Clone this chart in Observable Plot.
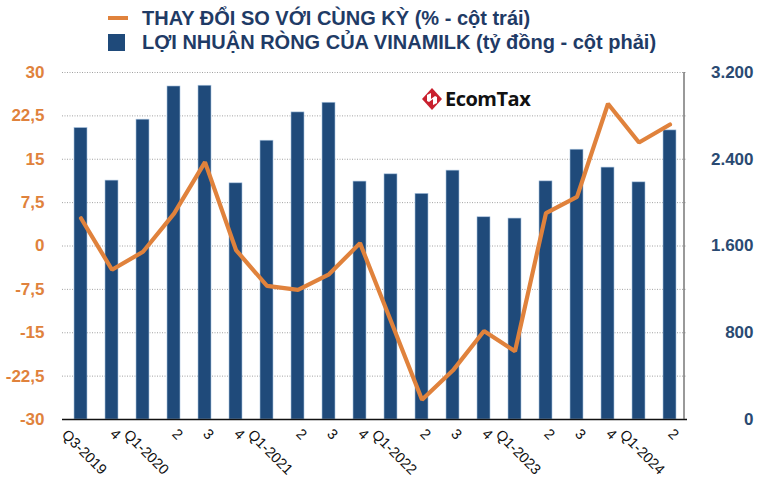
<!DOCTYPE html>
<html>
<head>
<meta charset="utf-8">
<script src="https://cdn.jsdelivr.net/npm/d3@7"></script>
<script src="https://cdn.jsdelivr.net/npm/@observablehq/plot@0.6"></script>
<style>
  html, body { margin: 0; padding: 0; background: #fff; }
  body { width: 765px; height: 478px; overflow: hidden; position: relative; font-family: "Liberation Sans", Arial, sans-serif; }
  .legend { position: absolute; left: 108px; top: 6px; color: #1f3b66; font-family: "Liberation Sans Narrow", "Arial Narrow", "Liberation Sans", sans-serif; font-weight: bold; font-size: 20px; line-height: 24px; }
  .legend .row { display: flex; align-items: center; height: 24px; white-space: nowrap; }
  .legend .sw { width: 20px; margin-right: 14px; display: inline-block; }
  #chart { position: absolute; left: 0; top: 60px; }
  .logo { position: absolute; left: 422px; top: 85px; display: flex; align-items: center; font-family: "Open Sans", sans-serif; font-weight: bold; font-size: 20px; color: #111; letter-spacing: -0.5px; }
</style>
</head>
<body>
<div class="legend">
  <div class="row"><span class="sw" style="height:4px;background:#e0823c"></span><span>THAY ĐỔI SO VỚI CÙNG KỲ (% - cột trái)</span></div>
  <div class="row"><span class="sw" style="height:17px;width:17px;margin-right:17px;background:#1f4a7a"></span><span>LỢI NHUẬN RÒNG CỦA VINAMILK (tỷ đồng - cột phải)</span></div>
</div>
<div id="chart"></div>
<div class="logo"><svg width="20" height="22" viewBox="0 0 20 22" style="margin-right:3px"><path d="M10 0 L20 11 L10 22 L0 11 Z" fill="#c9202e"/><path d="M5 7 L9 5 L9 11 L13 8 L15 9 L15 15 L11 17 L11 11 L7 14 L5 13 Z" fill="#fff"/></svg>EcomTax</div>
<script>
const quarters = ["2019Q3","2019Q4","2020Q1","2020Q2","2020Q3","2020Q4","2021Q1","2021Q2","2021Q3","2021Q4","2022Q1","2022Q2","2022Q3","2022Q4","2023Q1","2023Q2","2023Q3","2023Q4","2024Q1","2024Q2"];
const tickLabels = ["Q3-2019","4","Q1-2020","2","3","4","Q1-2021","2","3","4","Q1-2022","2","3","4","Q1-2023","2","3","4","Q1-2024","2"];
const profit = [2688,2203,2765,3071,3078,2178,2571,2832,2921,2194,2261,2081,2295,1865,1853,2196,2488,2323,2187,2666];
const yoy = [4.8,-4.1,-1.0,5.6,14.5,-0.7,-6.9,-7.6,-4.9,0.5,-13.0,-26.6,-21.5,-14.7,-18.2,5.7,8.5,24.6,17.9,21.0];
const leftTicks = [-30,-22.5,-15,-7.5,0,7.5,15,22.5,30];
const rightTicks = [0,800,1600,2400,3200];

const navy = "#1f4a7a";
const orange = "#e0823c";
const rightMax = 3200, yMin = -30, yMax = 30;
const toLeft = v => yMin + v / rightMax * (yMax - yMin);
const fromLeft = p => (p - yMin) / (yMax - yMin) * rightMax;

const data = quarters.map((q, i) => ({q, label: tickLabels[i], profit: profit[i], yoy: yoy[i]}));

const fmtLeft = d => String(d).replace(".", ",");
const fmtRight = d => Math.round(d).toString().replace(/\B(?=(\d{3})+(?!\d))/g, ".");

const chart = Plot.plot({
  width: 765,
  height: 418,
  marginTop: 12,
  marginBottom: 59,
  marginLeft: 62,
  marginRight: 78,
  style: {fontFamily: "'Liberation Sans', Arial, sans-serif", background: "transparent"},
  x: {domain: quarters, paddingInner: 0.595, paddingOuter: 0.27, axis: null},
  y: {domain: [yMin, yMax], axis: null},
  marks: [
    Plot.gridY(leftTicks, {stroke: "#8a8a8a", strokeOpacity: 1, strokeDasharray: "1,1.5", strokeWidth: 0.8}),
    Plot.barY(data, {x: "q", y1: () => yMin, y2: d => toLeft(d.profit), fill: navy, stroke: "#a9c3df", strokeWidth: 0.6}),
    Plot.line(data, {x: "q", y: "yoy", stroke: orange, strokeWidth: 4.2, strokeLinejoin: "miter"}),
    Plot.ruleY([yMin], {stroke: "#111", strokeWidth: 1.4}),
    Plot.ruleX([0], {x: () => quarters[quarters.length - 1], dx: 14, y1: yMin, y2: yMax, stroke: "#555", strokeWidth: 1.2}),
    Plot.axisY(leftTicks, {anchor: "left", label: null, tickSize: 0, tickPadding: 18, tickFormat: fmtLeft, fill: orange, fontSize: 17, fontWeight: "bold"}),
    Plot.axisY(rightTicks.map(toLeft), {anchor: "right", label: null, tickSize: 0, tickPadding: 0, textAnchor: "end", dx: 66, tickFormat: d => fmtRight(fromLeft(d)), fill: "#2a4a72", fontSize: 17, fontWeight: "bold"}),
    Plot.text(data.filter(d => d.label.length === 1), {x: "q", frameAnchor: "bottom", text: "label", rotate: 45, dy: 18, fontSize: 14.5, fill: "#111"}),
    Plot.text(data.filter(d => d.label.length > 1), {x: "q", frameAnchor: "bottom", text: "label", rotate: 45, dy: 36, fontSize: 14.5, fill: "#111"})
  ]
});
document.getElementById("chart").appendChild(chart);
</script>
</body>
</html>
